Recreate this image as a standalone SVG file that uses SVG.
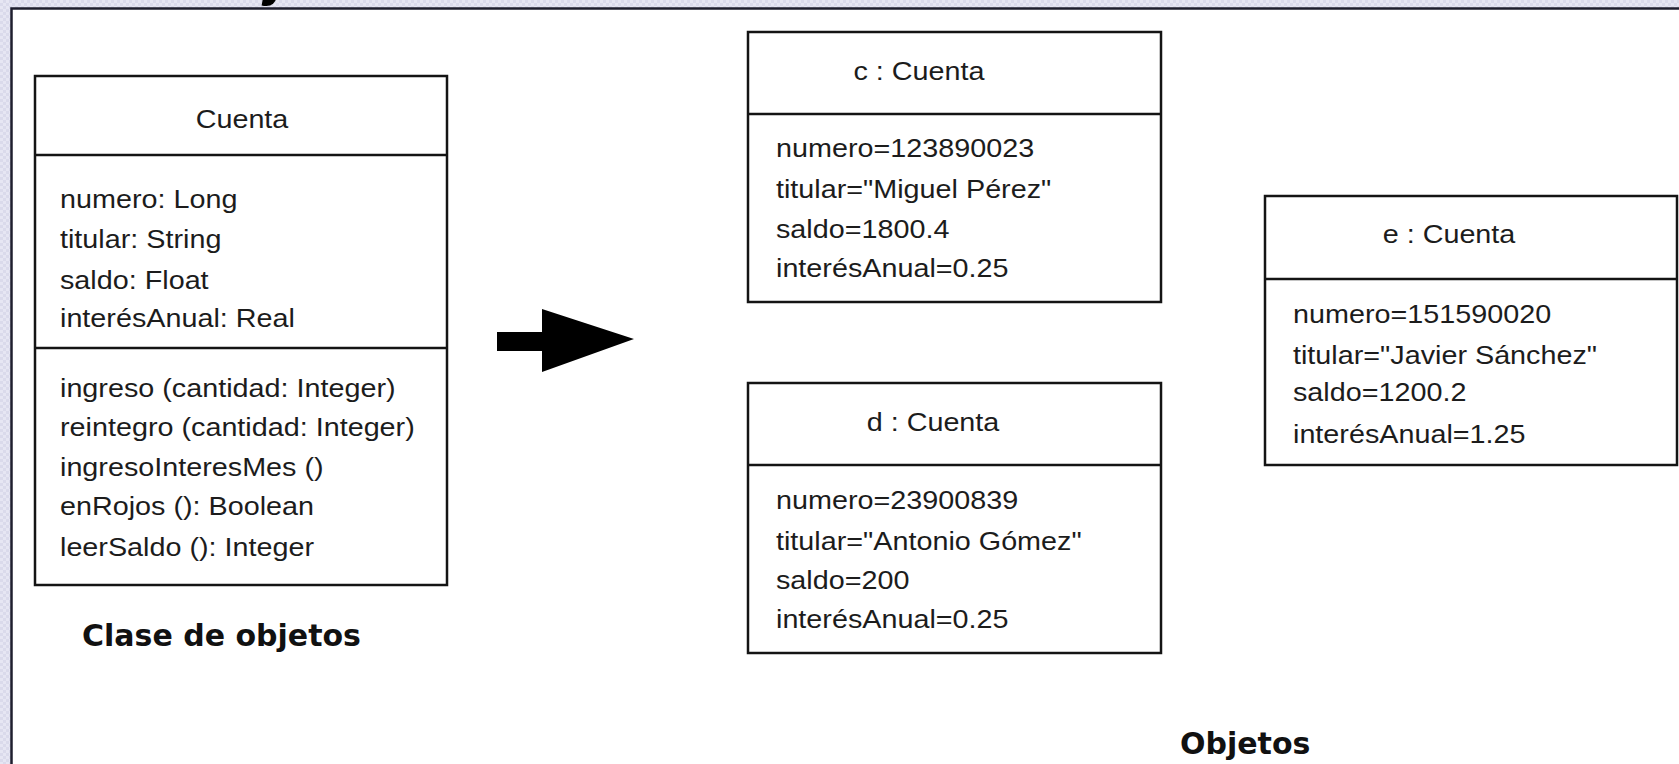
<svg xmlns="http://www.w3.org/2000/svg" width="1679" height="764" viewBox="0 0 1679 764">
  <defs>
    <pattern id="bg" width="6" height="6" patternUnits="userSpaceOnUse">
      <rect width="6" height="6" fill="#dadaeb"/>
      <rect width="3" height="3" fill="#e6e6f3"/>
      <rect x="3" y="3" width="3" height="3" fill="#e6e6f3"/>
    </pattern>
    <style>
      .box{fill:#fff;stroke:#141414;stroke-width:2.5}
      .div{stroke:#141414;stroke-width:2.5}
      .t{font-family:"Liberation Sans",Arial,sans-serif;font-size:25px;fill:#1c1c1c}
      .c{text-anchor:middle}
      .lbl{font-family:"DejaVu Sans",Verdana,sans-serif;font-weight:bold;font-size:30px;fill:#111}
      .title{font-family:"Liberation Sans",Arial,sans-serif;font-weight:bold;font-style:italic;font-size:60px;fill:#000}
    </style>
  </defs>

  <rect width="1679" height="764" fill="url(#bg)"/>
  <rect x="11.5" y="8.5" width="1680" height="770" fill="#fff" stroke="#1e1e2e" stroke-width="2.5"/>
  <text class="title" x="268" y="-6">j</text>

  <g id="cuenta-class">
    <rect class="box" x="35" y="76" width="412" height="509"/>
    <line class="div" x1="35" y1="155" x2="447" y2="155"/>
    <line class="div" x1="35" y1="348" x2="447" y2="348"/>
    <text class="t c" transform="translate(242 128) scale(1.15 1)">Cuenta</text>
    <text class="t" transform="translate(60 208) scale(1.15 1)">numero: Long</text>
    <text class="t" transform="translate(60 248) scale(1.15 1)">titular: String</text>
    <text class="t" transform="translate(60 289) scale(1.15 1)">saldo: Float</text>
    <text class="t" transform="translate(60 327) scale(1.15 1)">interésAnual: Real</text>
    <text class="t" transform="translate(60 397) scale(1.15 1)">ingreso (cantidad: Integer)</text>
    <text class="t" transform="translate(60 436) scale(1.15 1)">reintegro (cantidad: Integer)</text>
    <text class="t" transform="translate(60 476) scale(1.15 1)">ingresoInteresMes ()</text>
    <text class="t" transform="translate(60 515) scale(1.15 1)">enRojos (): Boolean</text>
    <text class="t" transform="translate(60 556) scale(1.15 1)">leerSaldo (): Integer</text>
  </g>

  <g id="obj-c">
    <rect class="box" x="748" y="32" width="413" height="270"/>
    <line class="div" x1="748" y1="114" x2="1161" y2="114"/>
    <text class="t c" transform="translate(919 80) scale(1.15 1)">c : Cuenta</text>
    <text class="t" transform="translate(776 157) scale(1.15 1)">numero=123890023</text>
    <text class="t" transform="translate(776 198) scale(1.15 1)">titular="Miguel Pérez"</text>
    <text class="t" transform="translate(776 238) scale(1.15 1)">saldo=1800.4</text>
    <text class="t" transform="translate(776 277) scale(1.15 1)">interésAnual=0.25</text>
  </g>

  <g id="obj-d">
    <rect class="box" x="748" y="383" width="413" height="270"/>
    <line class="div" x1="748" y1="465" x2="1161" y2="465"/>
    <text class="t c" transform="translate(933 431) scale(1.15 1)">d : Cuenta</text>
    <text class="t" transform="translate(776 509) scale(1.15 1)">numero=23900839</text>
    <text class="t" transform="translate(776 550) scale(1.15 1)">titular="Antonio Gómez"</text>
    <text class="t" transform="translate(776 589) scale(1.15 1)">saldo=200</text>
    <text class="t" transform="translate(776 628) scale(1.15 1)">interésAnual=0.25</text>
  </g>

  <g id="obj-e">
    <rect class="box" x="1265" y="196" width="412" height="269"/>
    <line class="div" x1="1265" y1="279" x2="1677" y2="279"/>
    <text class="t c" transform="translate(1449 243) scale(1.15 1)">e : Cuenta</text>
    <text class="t" transform="translate(1293 323) scale(1.15 1)">numero=151590020</text>
    <text class="t" transform="translate(1293 364) scale(1.15 1)">titular="Javier Sánchez"</text>
    <text class="t" transform="translate(1293 401) scale(1.15 1)">saldo=1200.2</text>
    <text class="t" transform="translate(1293 443) scale(1.15 1)">interésAnual=1.25</text>
  </g>

  <g id="connectors">
    <polygon points="497,332 542,332 542,309 634,339 542,372 542,351 497,351" fill="#000"/>
  </g>

  <g id="labels">
    <text class="lbl" x="82" y="646">Clase de objetos</text>
    <text class="lbl" x="1180" y="754">Objetos</text>
  </g>
</svg>
